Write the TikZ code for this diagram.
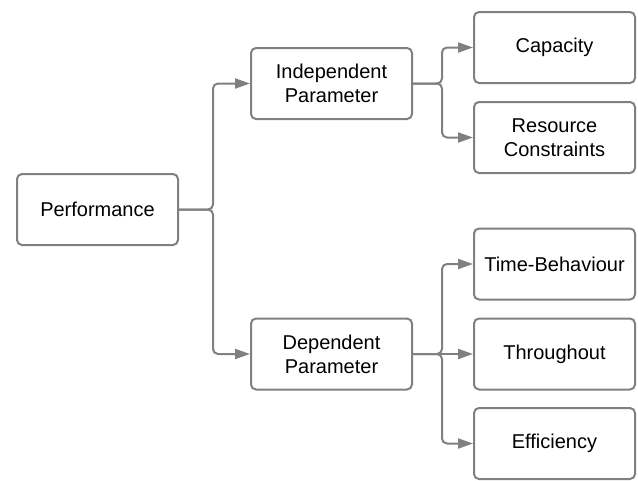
\documentclass[tikz,border=0pt]{standalone}
\usepackage{fontspec}
\setmainfont{Liberation Sans}
\usetikzlibrary{arrows.meta}
\definecolor{lc}{HTML}{808080}
\begin{document}
\begin{tikzpicture}[x=1pt,y=-1pt,
  box/.style={draw=lc, line width=2pt, rounded corners=5pt, minimum width=161pt,
    minimum height=71pt, align=center, inner sep=0pt,
    font=\fontsize{20}{24}\selectfont},
  conn/.style={draw=lc, line width=2pt, rounded corners=5pt,
    -{Triangle[length=15pt,width=10pt]}}]
\useasboundingbox (0,0) rectangle (638,480);
\node[box] (perf) at (97.5,209.5) {Performance};
\node[box] (ind) at (331.5,83.5) {Independent\\Parameter};
\node[box] (dep) at (331.5,354) {Dependent\\Parameter};
\node[box] (cap) at (554.5,47.5) {Capacity};
\node[box] (res) at (554.5,137.5) {Resource\\Constraints};
\node[box] (time) at (554.5,264) {Time-Behaviour};
\node[box] (thr) at (554.5,354) {Throughout};
\node[box] (eff) at (554.5,443.5) {Efficiency};
\coordinate (b1) at (213,209.5);
\coordinate (b2) at (442,83.5);
\coordinate (b3) at (442,354);
\draw[conn] (perf.east) -- (b1) |- (ind.west);
\draw[conn] (perf.east) -- (b1) |- (dep.west);
\draw[conn] (ind.east) -- (b2) |- (cap.west);
\draw[conn] (ind.east) -- (b2) |- (res.west);
\draw[conn] (dep.east) -- (b3) |- (time.west);
\draw[conn] (dep.east) -- (thr.west);
\draw[conn] (dep.east) -- (b3) |- (eff.west);
\end{tikzpicture}
\end{document}
